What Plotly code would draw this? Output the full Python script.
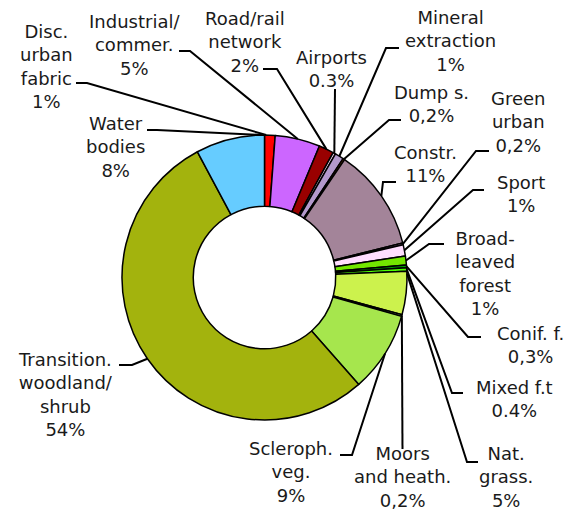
import math
import plotly.graph_objects as go

# ---------------- data ----------------
categories = ["Disc. urban fabric", "Industrial/ commer.", "Road/rail network", "Airports",
              "Mineral extraction", "Dump s.", "Constr.", "Green urban", "Sport",
              "Broad-leaved forest", "Conif. f.", "Mixed f.t", "Nat. grass.",
              "Moors and heath.", "Scleroph. veg.", "Transition. woodland/ shrub", "Water bodies"]
values = [1.2, 5.1, 1.7, 0.3, 1.0, 0.2, 11.6, 0.2, 1.3, 1.0, 0.3, 0.4, 4.9, 0.2, 9.1, 53.7, 7.8]
label_lines = [["Disc.", "urban", "fabric"], ["Industrial/", "commer."], ["Road/rail", "network"],
               ["Airports"], ["Mineral", "extraction"], ["Dump s."], ["Constr."],
               ["Green", "urban"], ["Sport"], ["Broad-", "leaved", "forest"], ["Conif. f."],
               ["Mixed f.t"], ["Nat.", "grass."], ["Moors", "and heath."], ["Scleroph.", "veg."],
               ["Transition.", "woodland/", "shrub"], ["Water", "bodies"]]
pct_labels = ["1%", "5%", "2%", "0.3%", "1%", "0,2%", "11%", "0,2%", "1%", "1%", "0,3%",
              "0.4%", "5%", "0,2%", "9%", "54%", "8%"]

# ---------------- style ----------------
colors = ["#FF0000", "#CC66FF", "#990000", "#E6CCE6", "#B399CC", "#A64D00", "#A38499",
          "#FFA6FF", "#FFDDFF", "#73E600", "#00A600", "#4DFF00", "#CCF24D", "#A6FF80",
          "#A6E64D", "#A3B30D", "#66CCFF"]
# label text centre (px), stub start x, elbow (px), anchor fraction inside slice
label_style = [
    dict(t=(46, 66), sx=76, e=(87, 83), f=0.15),
    dict(t=(134, 45), sx=179, e=(190, 51), f=0.5),
    dict(t=(245, 42), sx=263, e=(277, 69), f=0.5),
    dict(t=(331, 69), sx=None, e=(335, 89), f=0.5),
    dict(t=(450, 41), sx=399, e=(386, 48), f=0.5),
    dict(t=(431, 104), sx=401, e=(389, 120), f=0.5),
    dict(t=(425, 164), sx=396, e=(383, 182), f=0.5),
    dict(t=(518, 122), sx=489, e=(476, 151), f=0.5),
    dict(t=(521, 194), sx=484, e=(473, 190), f=0.5),
    dict(t=(485, 273), sx=444, e=(429, 244), f=0.5),
    dict(t=(530, 345), sx=481, e=(468, 337), f=0.5),
    dict(t=(514, 399), sx=463, e=(452, 393), f=0.5),
    dict(t=(506, 477), sx=478, e=(467, 462), f=0.05),
    dict(t=(402, 477), sx=None, e=(402.5, 449), f=0.5),
    dict(t=(291, 472), sx=340, e=(352, 455), f=0.5),
    dict(t=(65, 394), sx=119, e=(132, 365), f=0.5),
    dict(t=(115, 147), sx=147, e=(157, 130), f=0.97),
]

W, H = 576, 513
dom_x = [122 / W, 407 / W]
dom_y = [1 - 420 / H, 1 - 135 / H]

fig = go.Figure(go.Pie(
    labels=categories, values=values, sort=False, direction="clockwise", rotation=0,
    hole=0.5, textinfo="none", hoverinfo="label+percent",
    marker=dict(colors=colors, line=dict(color="black", width=1.5)),
    domain=dict(x=dom_x, y=dom_y), showlegend=False,
))

# pie geometry in pixels (derived from domain)
cx = (dom_x[0] + dom_x[1]) / 2 * W
cy = (1 - (dom_y[0] + dom_y[1]) / 2) * H
R = min((dom_x[1] - dom_x[0]) * W, (dom_y[1] - dom_y[0]) * H) / 2


def px(x, y):
    return x / W, 1 - y / H


total = sum(values)
cum = 0.0
shapes = []
annotations = []
for lines, pct, v, st in zip(label_lines, pct_labels, values, label_style):
    ang = math.radians((cum + st["f"] * v) / total * 360)
    cum += v
    ax_, ay_ = cx + R * math.sin(ang), cy - R * math.cos(ang)
    ex, ey = st["e"]
    pts = []
    if st["sx"] is not None:
        pts.append(px(st["sx"], ey))
    pts.append(px(ex, ey))
    pts.append(px(ax_, ay_))
    path = "M " + " L ".join(f"{a:.5f},{b:.5f}" for a, b in pts)
    shapes.append(dict(type="path", path=path, xref="paper", yref="paper",
                       line=dict(color="black", width=2), layer="above"))
    tx, ty = px(*st["t"])
    annotations.append(dict(text="<br>".join(lines + [pct]), x=tx, y=ty, xref="paper",
                            yref="paper", xanchor="center", yanchor="middle",
                            showarrow=False, align="center",
                            font=dict(family="DejaVu Sans", size=18, color="#1a1a1a")))

fig.update_layout(width=W, height=H, margin=dict(l=0, r=0, t=0, b=0),
                  paper_bgcolor="white", plot_bgcolor="white",
                  shapes=shapes, annotations=annotations)
fig.write_html("out.html", config={"displayModeBar": False},
               post_script="document.body.style.margin='0';document.body.style.overflow='hidden';")
